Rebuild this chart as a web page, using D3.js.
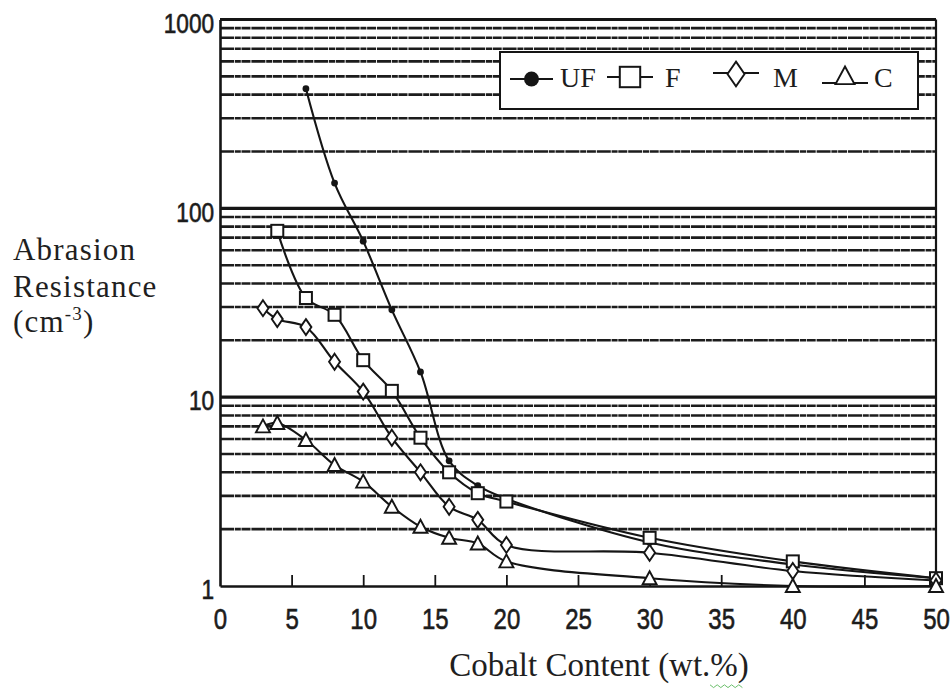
<!DOCTYPE html>
<html>
<head>
<meta charset="utf-8">
<script src="https://cdn.jsdelivr.net/npm/d3@7"></script>
<style>
  html, body { margin: 0; padding: 0; background: #fff; }
  svg { display: block; }
</style>
</head>
<body>
<svg id="chart" width="950" height="690"></svg>
<script>
// Abrasion resistance vs cobalt content, by WC grain size
const xTicks = [0, 5, 10, 15, 20, 25, 30, 35, 40, 45, 50];
const yTicks = [1, 10, 100, 1000];

const ufCobalt = [6, 8, 10, 12, 14, 16, 18, 20, 30, 40, 50];
const ufValues = [430, 136, 67, 29, 13.6, 4.6, 3.4, 2.9, 1.7, 1.3, 1.1];

const fCobalt = [4, 6, 8, 10, 12, 14, 16, 18, 20, 30, 40, 50];
const fValues = [76, 33.5, 27.3, 15.7, 10.8, 6.1, 4.0, 3.1, 2.8, 1.8, 1.35, 1.1];

const mCobalt = [3, 4, 6, 8, 10, 12, 14, 16, 18, 20, 30, 40, 50];
const mValues = [29.6, 25.9, 23.5, 15.4, 10.7, 6.1, 4.0, 2.63, 2.24, 1.65, 1.5, 1.2, 1.07];

const cCobalt = [3, 4, 6, 8, 10, 12, 14, 16, 18, 20, 30, 40, 50];
const cValues = [7.0, 7.3, 5.93, 4.37, 3.57, 2.63, 2.06, 1.8, 1.68, 1.35, 1.1, 1.0, 1.0];

const seriesNames = ["UF", "F", "M", "C"];

const svg = d3.select("#chart");
const ink = "#151515";
const serif = "'Liberation Serif', 'Times New Roman', serif";
const sans = "'Liberation Sans', Arial, sans-serif";

const x = d3.scaleLinear().domain([0, 50]).range([220, 936]);
const y = d3.scaleLog().domain([1, 1000]).range([586, 19.5]);

// horizontal log grid: minor lines inside each decade, heavier lines on decades
const grid = svg.append("g");
const minor = [];
[1, 10, 100].forEach(d => { for (let k = 2; k <= 9; k++) minor.push(k * d); });
grid.selectAll("line.minor").data(minor).join("line")
  .attr("class", "minor")
  .attr("x1", x(0)).attr("x2", x(50))
  .attr("y1", d => y(d)).attr("y2", d => y(d))
  .attr("stroke", "#1c1c1c").attr("stroke-width", 2.6)
  .attr("stroke-dasharray", "14 0.8 6 0.7 9 0.9");
grid.selectAll("line.major").data([10, 100, 1000]).join("line")
  .attr("class", "major")
  .attr("x1", x(0)).attr("x2", x(50))
  .attr("y1", d => y(d)).attr("y2", d => y(d))
  .attr("stroke", ink).attr("stroke-width", 3.2);

// right edge of the frame
svg.append("line").attr("x1", x(50)).attr("x2", x(50)).attr("y1", y(1000)).attr("y2", y(1))
  .attr("stroke", ink).attr("stroke-width", 2.2);

// x axis with ticks pointing into the plot
const xAxis = svg.append("g").attr("transform", `translate(0,${y(1)})`)
  .call(d3.axisBottom(x).tickValues(xTicks).tickSizeInner(-11).tickSizeOuter(0).tickPadding(22));
xAxis.select(".domain").attr("stroke", ink).attr("stroke-width", 2.6);
xAxis.selectAll(".tick line").attr("stroke", ink).attr("stroke-width", 1.8)
  .filter(d => d === 0 || d === 50).remove();
xAxis.selectAll(".tick text")
  .attr("font-family", sans).attr("font-size", 30).attr("fill", "#1c1c1c")
  .attr("stroke", "#1c1c1c").attr("stroke-width", 0.6)
  .attr("transform", "scale(0.8,1)");

// y axis: labels only, the grid carries the lines
const yAxis = svg.append("g").attr("transform", `translate(${x(0)},0)`)
  .call(d3.axisLeft(y).tickValues(yTicks).tickFormat(d3.format("d")).tickSize(0).tickPadding(7));
yAxis.select(".domain").attr("stroke", ink).attr("stroke-width", 2.6);
yAxis.selectAll(".tick text")
  .attr("font-family", sans).attr("font-size", 27).attr("fill", "#1c1c1c")
  .attr("stroke", "#1c1c1c").attr("stroke-width", 0.6)
  .attr("dy", "0.47em")
  .attr("transform", "scale(0.84,1)");

// smooth curves through the measured points
const line = d3.line().x(d => x(d[0])).y(d => y(d[1])).curve(d3.curveCatmullRom.alpha(0.5));
const series = [
  { name: seriesNames[0], pts: d3.zip(ufCobalt, ufValues), shape: "circle" },
  { name: seriesNames[1], pts: d3.zip(fCobalt, fValues), shape: "square" },
  { name: seriesNames[2], pts: d3.zip(mCobalt, mValues), shape: "diamond" },
  { name: seriesNames[3], pts: d3.zip(cCobalt, cValues), shape: "triangle" }
];

svg.append("g").selectAll("path").data(series).join("path")
  .attr("d", s => line(s.pts))
  .attr("fill", "none").attr("stroke", ink).attr("stroke-width", 2.1);

function drawMarker(g, shape, scale) {
  const k = scale || 1;
  if (shape === "circle") {
    g.append("circle").attr("r", 3.4 * k).attr("fill", ink);
  } else if (shape === "square") {
    g.append("rect").attr("x", -6 * k).attr("y", -6 * k).attr("width", 12 * k).attr("height", 12 * k)
      .attr("fill", "#fff").attr("stroke", ink).attr("stroke-width", 2);
  } else if (shape === "diamond") {
    g.append("path").attr("d", `M0,${-8 * k}L${5.5 * k},0L0,${8 * k}L${-5.5 * k},0Z`)
      .attr("fill", "#fff").attr("stroke", ink).attr("stroke-width", 1.9);
  } else {
    g.append("path").attr("d", `M0,${-7 * k}L${7 * k},${6 * k}L${-7 * k},${6 * k}Z`)
      .attr("fill", "#fff").attr("stroke", ink).attr("stroke-width", 1.9);
  }
}

series.forEach(s => {
  svg.append("g").selectAll("g").data(s.pts).join("g")
    .attr("transform", d => `translate(${x(d[0])},${y(d[1])})`)
    .each(function () { drawMarker(d3.select(this), s.shape); });
});

// legend
const legend = svg.append("g");
legend.append("rect").attr("x", 500).attr("y", 52).attr("width", 418).attr("height", 57)
  .attr("fill", "#fff").attr("stroke", ink).attr("stroke-width", 2);
const legendItems = [
  { x1: 510, x2: 553, ly: 79, my: 79, tx: 560, shape: "circle", k: 2.2 },
  { x1: 607, x2: 653, ly: 77, my: 77, tx: 665, shape: "square", k: 1.7 },
  { x1: 713, x2: 759, ly: 73, my: 74, tx: 773, shape: "diamond", k: 1.55 },
  { x1: 822, x2: 868, ly: 83, my: 76, tx: 874, shape: "triangle", k: 1.35 }
];
legendItems.forEach((it, i) => {
  legend.append("line").attr("x1", it.x1).attr("x2", it.x2).attr("y1", it.ly).attr("y2", it.ly)
    .attr("stroke", ink).attr("stroke-width", 2);
  const m = legend.append("g").attr("transform", `translate(${(it.x1 + it.x2) / 2},${it.my})`);
  drawMarker(m, it.shape, it.k);
  legend.append("text").attr("x", it.tx).attr("y", 87)
    .attr("font-family", serif).attr("font-size", 28).attr("fill", "#1c1c1c")
    .text(series[i].name);
});

// axis titles
const yTitle = svg.append("text").attr("font-family", serif).attr("font-size", 31)
  .attr("fill", "#1f1f1f").attr("letter-spacing", 1.2);
yTitle.append("tspan").attr("x", 13).attr("y", 260).text("Abrasion");
yTitle.append("tspan").attr("x", 13).attr("y", 297).text("Resistance");
const unit = yTitle.append("tspan").attr("x", 13).attr("y", 332);
unit.text("(cm");
yTitle.append("tspan").attr("font-size", 19).attr("dy", -12).text("-3");
yTitle.append("tspan").attr("dy", 12).text(")");

svg.append("text").attr("x", 599).attr("y", 676).attr("text-anchor", "middle")
  .attr("font-family", serif).attr("font-size", 33).attr("fill", "#1f1f1f")
  .text("Cobalt Content (wt.%)");

// spell-check squiggle under "%"
const sq = d3.range(0, 10).map(i => [710 + i * 3.6, 686 + (i % 2 ? 1.6 : -1.2)]);
svg.append("path").attr("d", d3.line()(sq)).attr("fill", "none")
  .attr("stroke", "#6cbf6c").attr("stroke-width", 1);
</script>
</body>
</html>
